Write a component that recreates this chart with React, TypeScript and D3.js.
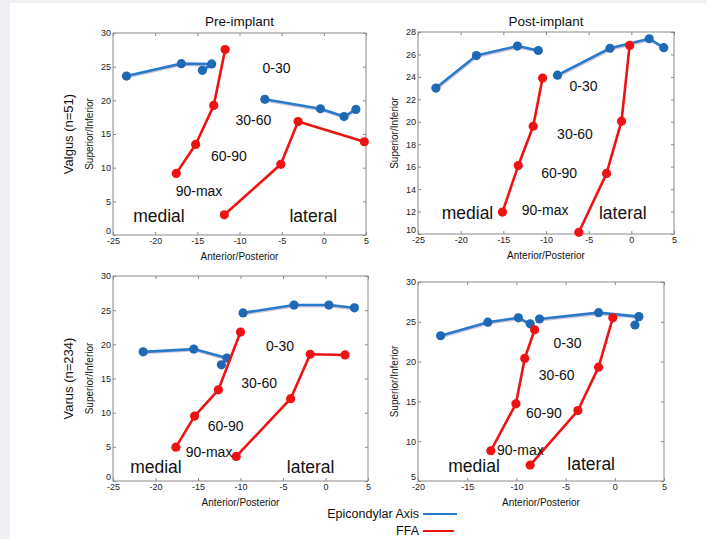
import { useRef, useEffect } from "react";
import * as d3 from "d3";

// knee flexion path data: [anterior/posterior, superior/inferior]
const preValgusAxisMedial = [[-23.4, 23.6], [-16.9, 25.45], [-13.3, 25.4], [-14.4, 24.45]];
const preValgusAxisLateral = [[-7.0, 20.15], [-0.4, 18.75], [2.4, 17.6], [3.8, 18.65]];
const preValgusFfaMedial = [[-17.5, 9.15], [-15.2, 13.45], [-13.05, 19.25], [-11.7, 27.55]];
const preValgusFfaLateral = [[-11.8, 3.0], [-5.1, 10.5], [-3.05, 16.85], [4.8, 13.85]];

const postValgusAxisMedial = [[-22.9, 23.0], [-18.15, 25.9], [-13.35, 26.75], [-10.9, 26.35]];
const postValgusAxisLateral = [[-8.65, 24.15], [-2.5, 26.55], [2.1, 27.4], [3.8, 26.6]];
const postValgusFfaMedial = [[-15.1, 11.95], [-13.25, 16.1], [-11.5, 19.6], [-10.4, 23.9]];
const postValgusFfaLateral = [[-6.15, 10.15], [-2.9, 15.4], [-1.15, 20.05], [-0.2, 26.8]];

const preVarusAxisMedial = [[-21.45, 18.9], [-15.5, 19.3], [-11.6, 18.0], [-12.25, 17.0]];
const preVarusAxisLateral = [[-9.7, 24.6], [-3.7, 25.75], [0.4, 25.75], [3.4, 25.35]];
const preVarusFfaMedial = [[-17.6, 4.95], [-15.4, 9.5], [-12.6, 13.35], [-10.0, 21.8]];
const preVarusFfaLateral = [[-10.5, 3.6], [-4.1, 12.05], [-1.8, 18.55], [2.3, 18.45]];

const postVarusAxisMedial = [[-17.7, 23.25], [-12.9, 24.95], [-9.8, 25.5], [-8.6, 24.75]];
const postVarusAxisLateral = [[-7.65, 25.35], [-1.65, 26.15], [2.45, 25.65], [2.05, 24.6]];
const postVarusFfaMedial = [[-12.6, 8.8], [-10.05, 14.7], [-9.15, 20.4], [-8.15, 24.0]];
const postVarusFfaLateral = [[-8.6, 7.0], [-3.75, 13.85], [-1.65, 19.3], [-0.2, 25.5]];

const flexionRanges = ["0-30", "30-60", "60-90", "90-max"];
const sides = ["medial", "lateral"];
const columnTitles = ["Pre-implant", "Post-implant"];
const rowTitles = ["Valgus (n=51)", "Varus (n=234)"];
const legendNames = ["Epicondylar Axis", "FFA"];

const BLUE = "#2a7acb";
const BLUE_DOT = "#1f68b4";
const RED = "#ee1313";
const FONT = "'Liberation Sans', Arial, sans-serif";

const panels = [
  {
    box: [113, 366, 33, 235], xDomain: [-25, 5], yDomain: [0, 30], yStep: 5,
    axis: [preValgusAxisMedial, preValgusAxisLateral], ffa: [preValgusFfaMedial, preValgusFfaLateral],
    // annotation anchors in data units: 0-30, 30-60, 60-90, 90-max, medial, lateral
    notes: [[-5.6, 24.85], [-8.35, 17.1], [-11.25, 11.8], [-14.8, 6.6], [-19.55, 2.8], [-1.25, 2.8]],
    title: columnTitles[0], row: rowTitles[0],
  },
  {
    box: [418, 674, 32, 234], xDomain: [-25, 5], yDomain: [10, 28], yStep: 2,
    axis: [postValgusAxisMedial, postValgusAxisLateral], ffa: [postValgusFfaMedial, postValgusFfaLateral],
    notes: [[-5.6, 23.2], [-6.6, 18.9], [-8.45, 15.4], [-10.1, 12.1], [-19.2, 11.85], [-1.0, 11.85]],
    title: columnTitles[1], row: null,
  },
  {
    box: [113, 368, 276, 481], xDomain: [-25, 5], yDomain: [0, 30], yStep: 5,
    axis: [preVarusAxisMedial, preVarusAxisLateral], ffa: [preVarusFfaMedial, preVarusFfaLateral],
    notes: [[-5.35, 19.75], [-7.8, 14.3], [-11.75, 8.1], [-13.7, 4.3], [-19.95, 2.0], [-1.75, 2.0]],
    title: null, row: rowTitles[1],
  },
  {
    box: [418, 664, 282, 481], xDomain: [-20, 5], yDomain: [5, 30], yStep: 5,
    axis: [postVarusAxisMedial, postVarusAxisLateral], ffa: [postVarusFfaMedial, postVarusFfaLateral],
    notes: [[-4.8, 22.35], [-5.9, 18.3], [-7.2, 13.5], [-9.6, 8.9], [-14.3, 6.9], [-2.4, 7.1]],
    title: null, row: null,
  },
];

function Panel({ p }) {
  const ref = useRef(null);
  useEffect(() => {
    const g = d3.select(ref.current);
    g.selectAll("*").remove();
    const [left, right, top, bottom] = p.box;
    const x = d3.scaleLinear().domain(p.xDomain).range([left, right]);
    const y = d3.scaleLinear().domain(p.yDomain).range([bottom, top]);
    const xTicks = d3.range(p.xDomain[0], p.xDomain[1] + 0.01, 5);
    const yTicks = d3.range(p.yDomain[0], p.yDomain[1] + 0.01, p.yStep);
    const plain = (d) => String(d); // hyphen minus, as in the original

    const styleAxis = (sel) => {
      sel.select(".domain").remove();
      sel.selectAll("line").attr("stroke", "#888");
      sel.selectAll("text").attr("fill", "#222").style("font-family", FONT).style("font-size", "9px");
    };
    g.append("g").attr("transform", `translate(0,${bottom})`)
      .call(d3.axisBottom(x).tickValues(xTicks).tickSize(-3).tickPadding(3).tickFormat(plain)).call(styleAxis);
    const yAxis = g.append("g").attr("transform", `translate(${left},0)`)
      .call(d3.axisLeft(y).tickValues(yTicks).tickSize(-3).tickPadding(2).tickFormat(plain)).call(styleAxis);
    // lowest y label sits a bit above the corner, clear of the first x label
    yAxis.selectAll(".tick text").filter((d) => d === p.yDomain[0]).attr("dy", "-0.12em");
    g.append("g").attr("transform", `translate(0,${top})`)
      .call(d3.axisTop(x).tickValues(xTicks).tickSize(-3).tickFormat(() => "")).call(styleAxis);
    g.append("g").attr("transform", `translate(${right},0)`)
      .call(d3.axisRight(y).tickValues(yTicks).tickSize(-3).tickFormat(() => "")).call(styleAxis);
    g.append("rect").attr("x", left).attr("y", top).attr("width", right - left).attr("height", bottom - top)
      .attr("fill", "none").attr("stroke", "#8a8a8a").attr("stroke-width", 1);

    const line = d3.line().x((d) => x(d[0])).y((d) => y(d[1]));
    const series = [
      ...p.axis.map((d) => ({ d, c: BLUE, dot: BLUE_DOT, shadow: true })),
      ...p.ffa.map((d) => ({ d, c: RED, dot: RED, shadow: false })),
    ];
    series.forEach((s) => {
      if (s.shadow) {
        g.append("path").attr("d", line(s.d)).attr("fill", "none").attr("stroke", "#c9b6cf")
          .attr("stroke-width", 2.2).attr("opacity", 0.8).attr("transform", "translate(0.6,1.4)");
      }
      g.append("path").attr("d", line(s.d)).attr("fill", "none").attr("stroke", s.c)
        .attr("stroke-width", 2.6).attr("stroke-linejoin", "round");
      g.selectAll(null).data(s.d).join("circle")
        .attr("cx", (d) => x(d[0])).attr("cy", (d) => y(d[1])).attr("r", 4.6).attr("fill", s.dot);
    });

    const labels = [...flexionRanges, ...sides];
    g.selectAll(null).data(labels).join("text")
      .attr("x", (_, i) => x(p.notes[i][0])).attr("y", (_, i) => y(p.notes[i][1]))
      .attr("text-anchor", "middle").attr("dominant-baseline", "central")
      .style("font-family", FONT).style("font-size", (_, i) => (i < 4 ? "14px" : "17.5px"))
      .attr("fill", "#111").text((t) => t);

    g.append("text").attr("x", (left + right) / 2).attr("y", bottom + 21)
      .attr("text-anchor", "middle").attr("dominant-baseline", "central")
      .style("font-family", FONT).style("font-size", "10px").attr("fill", "#111").text("Anterior/Posterior");
    g.append("text").attr("transform", `translate(${left - 24},${(top + bottom) / 2}) rotate(-90)`)
      .attr("text-anchor", "middle").attr("dominant-baseline", "central")
      .style("font-family", FONT).style("font-size", "10px").attr("fill", "#111").text("Superior/Inferior");
    if (p.title) {
      g.append("text").attr("x", (left + right) / 2).attr("y", 21)
        .attr("text-anchor", "middle").attr("dominant-baseline", "central")
        .style("font-family", FONT).style("font-size", "13.5px").attr("fill", "#111").text(p.title);
    }
    if (p.row) {
      g.append("text").attr("transform", `translate(${left - 45},${(top + bottom) / 2}) rotate(-90)`)
        .attr("text-anchor", "middle").attr("dominant-baseline", "central")
        .style("font-family", FONT).style("font-size", "13px").attr("fill", "#111").text(p.row);
    }
  }, [p]);
  return <g ref={ref} />;
}

export default function App() {
  const legendColors = [BLUE, RED];
  return (
    <svg width={707} height={539} style={{ position: "absolute", left: 0, top: 0, background: "#eeeff2" }}>
      <rect x={10} y={3} width={697} height={536} fill="#fff" />
      {panels.map((p, i) => (
        <Panel key={i} p={p} />
      ))}
      {legendNames.map((name, i) => (
        <g key={name} transform={`translate(0,${514 + i * 17})`}>
          <text x={419} y={0} textAnchor="end" dominantBaseline="central"
            style={{ fontFamily: FONT, fontSize: "12.5px" }} fill="#111">
            {name}
          </text>
          <line x1={423} x2={i === 0 ? 457 : 454} y1={0} y2={0} stroke={legendColors[i]} strokeWidth={2} />
        </g>
      ))}
    </svg>
  );
}
